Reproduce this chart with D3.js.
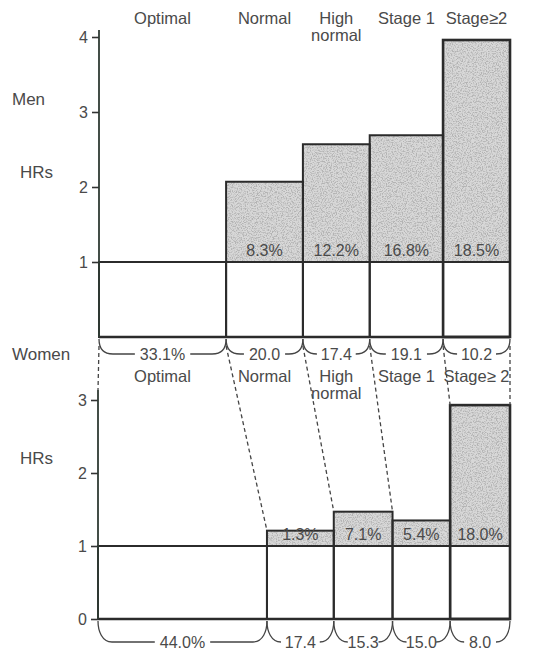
<!DOCTYPE html>
<html>
<head>
<meta charset="utf-8">
<script src="https://cdn.jsdelivr.net/npm/d3@7"></script>
<style>
  body { margin: 0; background: #fff; }
  text { font-family: 'Liberation Sans', Arial, sans-serif; fill: #4a4a4a; }
</style>
</head>
<body>
<div id="chart"></div>
<script>
// Categories of blood pressure
const categories = ['Optimal', 'Normal', 'High normal', 'Stage 1', 'Stage\u22652'];
const womenCategories = ['Optimal', 'Normal', 'High normal', 'Stage 1', 'Stage\u2265 2'];

// Men: share of population (%), hazard ratios, PAF (%)
const menShare = [33.1, 20.0, 17.4, 19.1, 10.2];
const menHR = [1.0, 2.07, 2.57, 2.69, 3.96];
const menPAF = [null, 8.3, 12.2, 16.8, 18.5];
const menTicks = [1, 2, 3, 4];

// Women
const womenShare = [44.0, 17.4, 15.3, 15.0, 8.0];
const womenHR = [1.0, 1.21, 1.47, 1.35, 2.93];
const womenPAF = [null, 1.3, 7.1, 5.4, 18.0];
const womenTicks = [0, 1, 2, 3];

const svgWidth = 545;
const svgHeight = 653;
const rightEdge = 510;
const ink = '#2b2b2b';

const svg = d3.select('#chart')
    .append('svg')
    .attr('width', svgWidth)
    .attr('height', svgHeight);

// stippled grey texture for the excess-risk part of the bars
const defs = svg.append('defs');
const filter = defs.append('filter')
    .attr('id', 'stipple')
    .attr('x', 0).attr('y', 0).attr('width', 1).attr('height', 1);
filter.append('feTurbulence')
    .attr('type', 'fractalNoise')
    .attr('baseFrequency', 0.8)
    .attr('numOctaves', 2)
    .attr('seed', 7)
    .attr('result', 'noise');
filter.append('feColorMatrix')
    .attr('in', 'noise')
    .attr('type', 'matrix')
    .attr('values', '0 0 0 0 0.45  0 0 0 0 0.45  0 0 0 0 0.45  4 0 0 0 -1.75')
    .attr('result', 'dots');
filter.append('feComposite')
    .attr('in', 'dots')
    .attr('in2', 'SourceGraphic')
    .attr('operator', 'in')
    .attr('result', 'dotsIn');
const merge = filter.append('feMerge');
merge.append('feMergeNode').attr('in', 'SourceGraphic');
merge.append('feMergeNode').attr('in', 'dotsIn');

// Scales
const xMen = d3.scaleLinear().domain([0, 100]).range([99, 483]);
const yMen = d3.scaleLinear().domain([0, 4]).range([337, 37]);
const xWomen = d3.scaleLinear().domain([0, 100]).range([98, 482]);
const yWomen = d3.scaleLinear().domain([0, 3]).range([619, 400]);

// bar edges: cumulative shares, last (open-ended) group runs to the panel edge
function edges(share, x) {
    let cum = 0;
    const e = [x(0)];
    share.forEach((s, i) => {
        cum += s;
        e.push(i === share.length - 1 ? rightEdge : x(cum));
    });
    return e;
}

const menEdges = edges(menShare, xMen);
const womenEdges = edges(womenShare, xWomen);

function drawPanel(share, hr, paf, e, y, ticks, axisTop, braceDrop) {
    const g = svg.append('g');

    // stippled part above HR = 1
    hr.forEach((h, i) => {
        if (h <= 1) return;
        g.append('rect')
            .attr('x', e[i]).attr('y', y(h))
            .attr('width', e[i + 1] - e[i]).attr('height', y(1) - y(h))
            .attr('fill', '#d8d8d8')
            .attr('filter', 'url(#stipple)');
    });

    // outlines of the bars
    hr.forEach((h, i) => {
        g.append('rect')
            .attr('x', e[i]).attr('y', y(Math.max(h, 1)))
            .attr('width', e[i + 1] - e[i]).attr('height', y(0) - y(Math.max(h, 1)))
            .attr('fill', 'none')
            .attr('stroke', ink)
            .attr('stroke-width', i === hr.length - 1 ? 2.6 : 2);
    });

    // reference line at HR = 1 and the baseline
    g.append('line')
        .attr('x1', e[0]).attr('x2', rightEdge)
        .attr('y1', y(1)).attr('y2', y(1))
        .attr('stroke', ink).attr('stroke-width', 2);
    g.append('line')
        .attr('x1', e[0]).attr('x2', rightEdge)
        .attr('y1', y(0)).attr('y2', y(0))
        .attr('stroke', ink).attr('stroke-width', 2.4);

    // PAF labels just above the HR = 1 line
    paf.forEach((p, i) => {
        if (p == null) return;
        g.append('text')
            .attr('x', (e[i] + e[i + 1]) / 2)
            .attr('y', y(1) - 6)
            .attr('text-anchor', 'middle')
            .style('font-size', '16px')
            .text(d3.format('.1f')(p) + '%');
    });

    // Y-axis
    const axis = g.append('g')
        .attr('transform', 'translate(' + e[0] + ',0)')
        .call(d3.axisLeft(y).tickValues(ticks).tickSize(7).tickPadding(4).tickFormat(d3.format('d')));
    axis.select('.domain').remove();
    axis.selectAll('line').attr('stroke', '#333').attr('stroke-width', 1.6);
    axis.selectAll('text')
        .style('font-size', '16px')
        .style('font-family', "'Liberation Sans', Arial, sans-serif")
        .attr('fill', '#4a4a4a');
    g.append('line')
        .attr('x1', e[0]).attr('x2', e[0])
        .attr('y1', axisTop).attr('y2', y(0))
        .attr('stroke', '#2f3a33').attr('stroke-width', 1.8);

    // braces with the population shares
    const yb = y(0) + 2;
    share.forEach((s, i) => {
        const x0 = e[i], x1 = e[i + 1], mid = (x0 + x1) / 2;
        const t = g.append('text')
            .attr('x', mid)
            .attr('y', yb + braceDrop)
            .attr('text-anchor', 'middle')
            .style('font-size', '16px')
            .text(d3.format('.1f')(s) + (i === 0 ? '%' : ''));
        const w = t.node().getComputedTextLength();
        const hy = yb + braceDrop - 6;
        const left = Math.max(x0 + 14, mid - w / 2 - 5);
        const right = Math.min(x1 - 14, mid + w / 2 + 5);
        g.append('path')
            .attr('d', 'M' + x0 + ',' + yb + ' C' + x0 + ',' + (yb + 10) + ' ' + (x0 + 4) + ',' + hy + ' ' + (x0 + 14) + ',' + hy + ' L' + left + ',' + hy)
            .attr('fill', 'none').attr('stroke', '#444').attr('stroke-width', 1.3);
        g.append('path')
            .attr('d', 'M' + x1 + ',' + yb + ' C' + x1 + ',' + (yb + 10) + ' ' + (x1 - 4) + ',' + hy + ' ' + (x1 - 14) + ',' + hy + ' L' + right + ',' + hy)
            .attr('fill', 'none').attr('stroke', '#444').attr('stroke-width', 1.3);
    });

    return g;
}

drawPanel(menShare, menHR, menPAF, menEdges, yMen, menTicks, 30, 21);
drawPanel(womenShare, womenHR, womenPAF, womenEdges, yWomen, womenTicks, 390, 27);

// dashed guides from the men's groups to the women's groups
menEdges.forEach((xt, i) => {
    let yEnd;
    if (i === 0) {
        yEnd = 390;
    } else {
        const adj = [i - 1, i].filter(j => j < womenHR.length).map(j => yWomen(Math.max(womenHR[j], 1)));
        yEnd = d3.min(adj);
    }
    svg.append('line')
        .attr('x1', xt).attr('y1', yMen(0) + 9)
        .attr('x2', womenEdges[i]).attr('y2', yEnd)
        .attr('stroke', '#444')
        .attr('stroke-width', 1.3)
        .attr('stroke-dasharray', '4,3');
});

// category labels, centred over the men's groups
function categoryLabels(names, yFirst) {
    names.forEach((c, i) => {
        const lines = c === 'High normal' ? ['High', 'normal'] : [c];
        const t = svg.append('text')
            .attr('x', (menEdges[i] + menEdges[i + 1]) / 2)
            .attr('y', yFirst)
            .attr('text-anchor', 'middle')
            .style('font-size', '16.5px');
        lines.forEach((l, k) => {
            t.append('tspan')
                .attr('x', (menEdges[i] + menEdges[i + 1]) / 2)
                .attr('dy', k === 0 ? 0 : 17)
                .text(l);
        });
    });
}
categoryLabels(categories, 24);
categoryLabels(womenCategories, 382);

// Titles
svg.append('text').attr('x', 12).attr('y', 105).style('font-size', '17px').text('Men');
svg.append('text').attr('x', 20).attr('y', 178).style('font-size', '17px').text('HRs');
svg.append('text').attr('x', 12).attr('y', 360).style('font-size', '17px').text('Women');
svg.append('text').attr('x', 20).attr('y', 464).style('font-size', '17px').text('HRs');
</script>
</body>
</html>
